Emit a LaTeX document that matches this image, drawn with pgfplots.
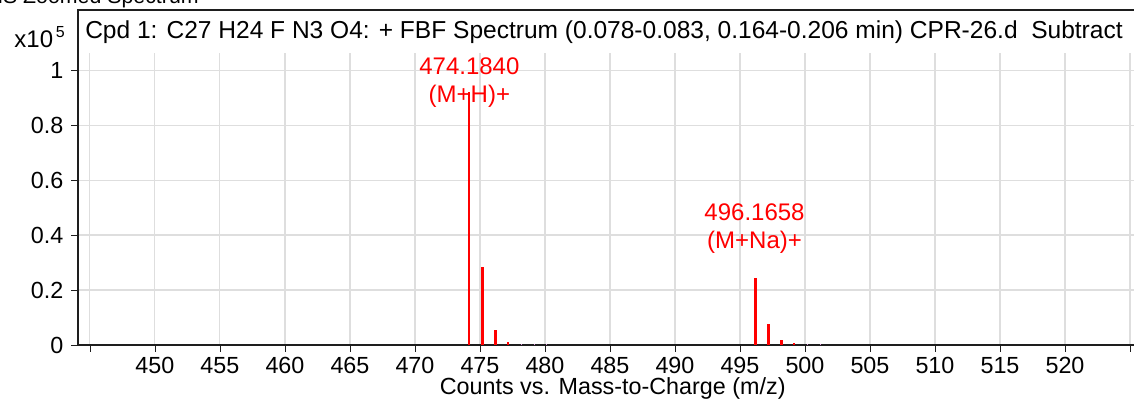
\documentclass[border=0pt]{standalone}
\usepackage{fontspec}
\setmainfont{Liberation Sans}
\usepackage{pgfplots}
\pgfplotsset{compat=1.18}
\definecolor{gridgray}{RGB}{222,222,222}
\definecolor{faint}{RGB}{225,150,225}
\definecolor{axisblack}{RGB}{30,30,30}
\definecolor{peakred}{RGB}{255,0,0}
\begin{document}
\fontsize{17.5}{21}\selectfont
\begin{tikzpicture}
\begin{axis}[
    name=ms,
    at={(0,0)}, anchor=south west,
    scale only axis,
    width=792pt, height=219pt,
    xmin=444.08, xmax=525.31,
    ymin=0, ymax=1.062,
    axis x line=bottom, axis y line=left,
    axis line style={line width=1.3pt, axisblack, -},
    xtick={445,450,...,525},
    xticklabels={,450,455,460,465,470,475,480,485,490,495,500,505,510,515,520,},
    ytick={0,0.2,0.4,0.6,0.8,1},
    yticklabels={0,0.2,0.4,0.6,0.8,1},
    tick style={axisblack, line width=0.6pt},
    major tick length=5pt,
    tick align=outside,
    grid=major,
    grid style={gridgray, line width=0.8pt},
    /pgf/number format/assume math mode=true,
    ticklabel style={font=\fontsize{17.5}{21}\selectfont},
    xticklabel style={yshift=2pt},
    clip=false,
]
    % main peaks
    \addplot[ycomb, draw=peakred, line width=1.3pt, mark=none] coordinates {(474.184,0.92)};
    \addplot[ycomb, draw=peakred, line width=2.2pt, mark=none] coordinates {
        (475.187,0.285) (476.190,0.055)
        (496.166,0.245) (497.169,0.076) (498.170,0.017)
    };
    \addplot[ycomb, draw=peakred, line width=1.5pt, mark=none] coordinates {
        (477.190,0.012) (499.170,0.006)
    };
    \addplot[ycomb, draw=faint, line width=1pt, mark=none] coordinates {
        (478.2,0.003) (479.2,0.003) (480.1,0.003) (500.2,0.003) (501.2,0.003)
    };

    % peak labels
    \node[text=peakred, align=center, font=\fontsize{18}{21}\selectfont] at (axis cs:474.184,0.953) {474.1840\\(M+H)+};
    \node[text=peakred, align=center, font=\fontsize{18}{21}\selectfont] at (axis cs:496.12,0.425) {496.1658\\(M+Na)+};

    % frame and title
    \draw[line width=1.3pt, axisblack] (rel axis cs:0,1) -- ([yshift=32.25pt]rel axis cs:0,1) -- ([yshift=32.25pt]rel axis cs:1,1);
    \node[anchor=west, inner sep=0pt, font=\fontsize{18.4}{21}\selectfont] at ([xshift=5.25pt, yshift=15.75pt]rel axis cs:0,1)
        {Cpd 1: C27 H24 F N3 O4: + FBF Spectrum (0.078-0.083, 0.164-0.206 min) CPR-26.d\ \ Subtract};
    \node[anchor=base east, inner sep=0pt, font=\fontsize{18}{21}\selectfont] at ([xshift=-9.75pt, yshift=4.5pt]rel axis cs:0,1)
        {x10\kern2pt\raisebox{7.5pt}{\fontsize{12}{12}\selectfont 5}};
    \node[anchor=base west, inner sep=0pt, font=\fontsize{16}{16}\selectfont] at ([xshift=-69.75pt, yshift=37.5pt]rel axis cs:0,1)
        {MS Zoomed Spectrum};
    \node at ([xshift=401pt, yshift=-32.25pt]rel axis cs:0,0) {Counts vs. Mass-to-Charge (m/z)};
\end{axis}
\pgfresetboundingbox
\path[use as bounding box] (-58.5pt,-42pt) rectangle (792pt,258.75pt);
\end{tikzpicture}
\end{document}
